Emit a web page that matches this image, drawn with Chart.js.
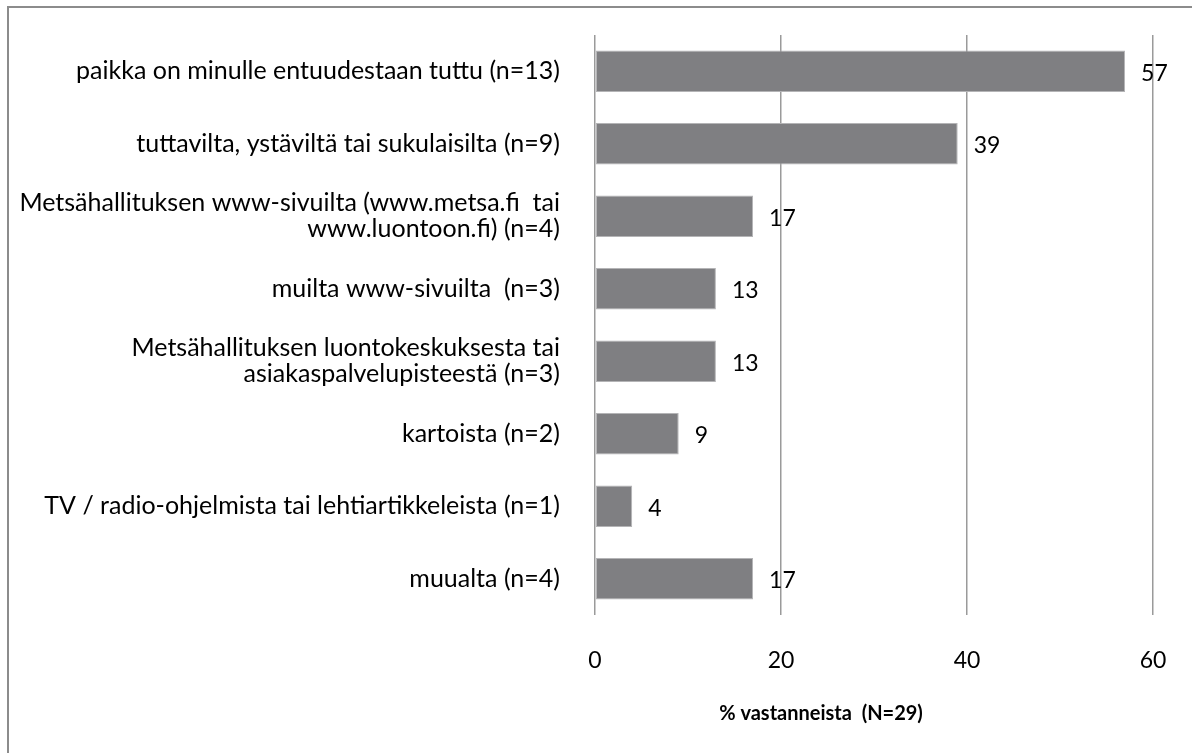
<!DOCTYPE html>
<html>
<head>
<meta charset="utf-8">
<script src="https://cdn.jsdelivr.net/npm/chart.js@4.4.0/dist/chart.umd.min.js"></script>
<style>
  html, body { margin: 0; padding: 0; background: #fff; overflow: hidden; }
  #wrap { position: relative; width: 1192px; height: 753px; }
  #frame { position: absolute; left: 7px; top: 6px; width: 1300px; height: 900px;
           border-left: 2px solid #8c8c8c; border-top: 2px solid #8c8c8c; pointer-events: none; }
  canvas { position: absolute; left: 0; top: 0; }
</style>
</head>
<body>
<div id="wrap">
  <canvas id="chart" width="1192" height="753"></canvas>
  <div id="frame"></div>
</div>
<script>
// Categories (multi-line ones as arrays)
const categories = [
  'paikka on minulle entuudestaan tuttu (n=13)',
  'tuttavilta, ystäviltä tai sukulaisilta (n=9)',
  ['Metsähallituksen www-sivuilta (www.metsa.fi  tai', 'www.luontoon.fi) (n=4)'],
  'muilta www-sivuilta  (n=3)',
  ['Metsähallituksen luontokeskuksesta tai', 'asiakaspalvelupisteestä (n=3)'],
  'kartoista (n=2)',
  'TV / radio-ohjelmista tai lehtiartikkeleista (n=1)',
  'muualta (n=4)'
];
const percentValues = [57, 39, 17, 13, 13, 9, 4, 17];
const xTicks = [0, 20, 40, 60];
const axisTitle = '% vastanneista  (N=29)';

const FONT = 'Lato, "Open Sans", sans-serif';

// Value labels to the right of each bar, plus the x axis title
const valueLabels = {
  id: 'valueLabels',
  afterDatasetsDraw(chart) {
    const ctx = chart.ctx;
    const meta = chart.getDatasetMeta(0);
    ctx.save();
    ctx.font = '23px ' + FONT;
    ctx.fillStyle = '#000';
    ctx.textAlign = 'left';
    ctx.textBaseline = 'middle';
    meta.data.forEach((bar, i) => {
      ctx.fillText(String(percentValues[i]), bar.x + 16, bar.y + 2);
    });
    // axis title (sits left of the plot centre, like the original)
    const area = chart.chartArea;
    ctx.font = 'bold 20px ' + FONT;
    ctx.textAlign = 'center';
    ctx.fillText(axisTitle, area.left + 226, area.bottom + 99);
    ctx.restore();
  }
};

new Chart(document.getElementById('chart').getContext('2d'), {
  type: 'bar',
  data: {
    labels: categories,
    datasets: [{
      data: percentValues,
      backgroundColor: '#7f7f82',
      borderColor: '#b4b4b6',
      borderWidth: 1,
      borderSkipped: false,
      categoryPercentage: 1,
      barPercentage: 0.57
    }]
  },
  options: {
    indexAxis: 'y',
    responsive: false,
    animation: false,
    layout: { padding: { top: 35, right: 39, bottom: 0, left: 0 } },
    plugins: { legend: { display: false }, tooltip: { enabled: false } },
    scales: {
      x: {
        min: 0,
        max: 60,
        afterBuildTicks(scale) { scale.ticks = xTicks.map(v => ({ value: v })); },
        afterFit(scale) {
          scale.height = 138;
          scale.paddingLeft = 0;
          scale.paddingRight = 0;
        },
        grid: { color: '#9a9a9a', lineWidth: 1.5, drawTicks: false },
        border: { display: false },
        ticks: { color: '#000', padding: 32, font: { family: FONT, size: 23 } },
        title: { display: false }
      },
      y: {
        afterFit(scale) {
          scale.width = 595;
          scale.paddingTop = 0;
          scale.paddingBottom = 0;
        },
        grid: { display: false },
        border: { display: false },
        ticks: {
          color: '#000',
          padding: 27,
          font: { family: FONT, size: 25, lineHeight: 1.05 }
        }
      }
    }
  },
  plugins: [valueLabels]
});
</script>
</body>
</html>
